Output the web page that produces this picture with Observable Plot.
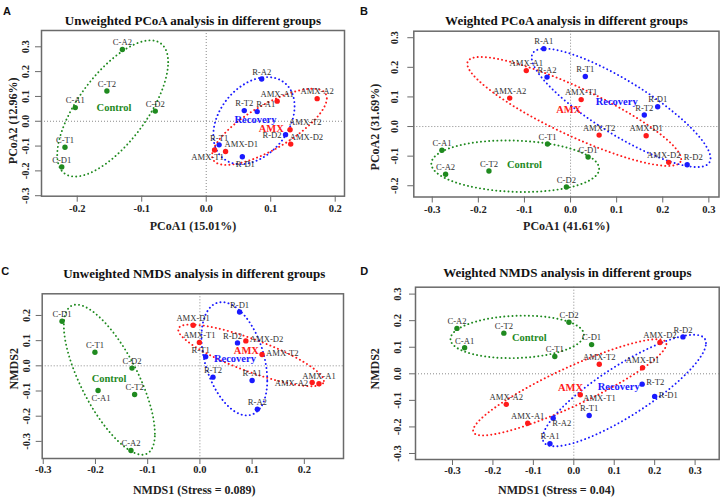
<!DOCTYPE html>
<html><head><meta charset="utf-8">
<script src="https://cdn.jsdelivr.net/npm/d3@7"></script>
<script src="https://cdn.jsdelivr.net/npm/@observablehq/plot@0.6"></script>
<style>
body{margin:0;background:#fff;}
#fig{position:relative;width:721px;height:501px;overflow:hidden;background:#fff;}
.panel{position:absolute;}
</style></head><body><div id="fig"></div>
<script>
// ---------- data ----------
const samples = ["C-A1","C-A2","C-D1","C-D2","C-T1","C-T2","AMX-A1","AMX-A2","AMX-D1","AMX-D2","AMX-T1","AMX-T2","R-A1","R-A2","R-D1","R-D2","R-T1","R-T2"];
const groupNames = ["Control","AMX","Recovery"];
const groupColors = ["#1f8a1f","#ff1a1a","#1a1aff"];

// Panel A: Unweighted PCoA
const aX = [-0.203,-0.130,-0.224,-0.079,-0.219,-0.154, 0.110,0.172,0.030,0.131,0.013,0.130, 0.079,0.086,0.056,0.123,0.020,0.059];
const aY = [0.055,0.289,-0.184,0.041,-0.105,0.122, 0.081,0.091,-0.122,-0.092,-0.116,-0.034, 0.039,0.170,-0.143,-0.054,-0.095,0.043];
const aPos = ["n","n","n","n","n","n","n","n","ne","ne","sl","ne","ne","n","s","w","n","n"];
const aGroupLX = [-0.143, 0.1008, 0.0764];
const aGroupLY = [0.054, -0.031, 0.007];
const aEllCx = [-0.145, 0.098, 0.074], aEllCy = [0.0515, -0.0225, 0.0025];
const aEllRx = [0.086, 0.089, 0.063], aEllRy = [0.2745, 0.1535, 0.1755], aEllRho = [0.68, 0.75, 0.33];
const aXTicks = [-0.2,-0.1,0,0.1,0.2], aYTicks = [-0.3,-0.2,-0.1,0,0.1,0.2,0.3];

// Panel B: Weighted PCoA
const bX = [-0.279,-0.271,0.038,-0.009,-0.050,-0.177, -0.096,-0.132,0.164,0.213,0.023,0.062, -0.058,-0.051,0.189,0.253,0.032,0.160];
const bY = [-0.080,-0.161,-0.103,-0.204,-0.059,-0.150, 0.189,0.096,-0.031,-0.121,0.091,-0.029, 0.263,0.167,0.067,-0.129,0.169,0.039];
const bPos = ["n","n","n","n","n","n","n","n","n","nl","n","n","n","n","n","nr","n","n"];
const bGroupLX = [-0.100, -0.004, 0.100];
const bGroupLY = [-0.127, 0.057, 0.085];
const bEllCx = [-0.120, 0.008, 0.1096], bEllCy = [-0.134, 0.051, 0.063];
const bEllRx = [0.182, 0.232, 0.194], bEllRy = [0.087, 0.184, 0.200], bEllRho = [-0.10, -0.875, -0.85];
const bXTicks = [-0.3,-0.2,-0.1,0,0.1,0.2,0.3], bYTicks = [-0.2,-0.1,0,0.1,0.2,0.3];

// Panel C: Unweighted NMDS
const cX = [-0.195,-0.132,-0.264,-0.130,-0.201,-0.125, 0.228,0.215,-0.013,0.088,-0.001,0.119, 0.100,0.110,0.076,0.072,0.011,0.025];
const cY = [-0.098,-0.336,0.177,-0.009,0.054,-0.114, -0.071,-0.066,0.161,0.099,0.093,0.045, -0.058,-0.172,0.214,0.091,0.036,-0.045];
const cPos = ["s","n","n","n","n","n","n","w","n","e","n","e","n","n","n","nl","nl","n"];
const cGroupLX = [-0.174, 0.089, 0.067];
const cGroupLY = [-0.052, 0.061, 0.028];
const cEllCx = [-0.1734, 0.098, 0.066], cEllCy = [-0.055, 0.0415, 0.028];
const cEllRx = [0.0872, 0.1395, 0.063], cEllRy = [0.298, 0.1225, 0.225], cEllRho = [-0.72, -0.83, -0.38];
const cXTicks = [-0.3,-0.2,-0.1,0,0.1,0.2], cYTicks = [-0.3,-0.2,-0.1,0,0.1,0.2];

// Panel D: Weighted NMDS
const dX = [-0.270,-0.289,0.044,-0.012,-0.047,-0.173, -0.114,-0.167,0.170,0.213,0.016,0.063, -0.059,-0.051,0.200,0.270,0.038,0.169];
const dY = [0.098,0.171,0.110,0.194,0.065,0.153, -0.186,-0.115,0.023,0.118,-0.079,0.036, -0.263,-0.167,-0.085,0.139,-0.157,-0.039];
const dPos = ["n","n","n","n","n","n","n","n","n","n","es","n","n","se","e","n","n","e"];
const dGroupLX = [-0.110, -0.008, 0.111];
const dGroupLY = [0.136, -0.053, -0.048];
const dEllCx = [-0.140, -0.010, 0.125], dEllCy = [0.139, -0.051, -0.063];
const dEllRx = [0.165, 0.239, 0.202], dEllRy = [0.080, 0.181, 0.210], dEllRho = [0.1, 0.90, 0.85];
const dXTicks = [-0.3,-0.2,-0.1,0,0.1,0.2,0.3], dYTicks = [-0.3,-0.2,-0.1,0,0.1,0.2,0.3];

// ---------- rendering ----------
const SERIF = "'Liberation Serif','Times New Roman',serif";
const SANS = "'Liberation Sans',Arial,sans-serif";
const AXIS = "#6a6a6a";
const groupOf = s => s.startsWith("C-") ? "Control" : s.startsWith("R-") ? "Recovery" : "AMX";
const labelOffsets = {
  n:  {dx: 0,  dy: -7,  anchor: "middle"},
  nl: {dx: -5, dy: -7,  anchor: "middle"},
  nr: {dx: 6,  dy: -7,  anchor: "middle"},
  s:  {dx: 3,  dy: 7.5, anchor: "middle"},
  sl: {dx: -7, dy: 7.5, anchor: "middle"},
  ne: {dx: -1, dy: -7,  anchor: "start"},
  e:  {dx: 4,  dy: -1.5,anchor: "start"},
  es: {dx: 3,  dy: 3,   anchor: "start"},
  w:  {dx: -4, dy: 1,   anchor: "end"},
  se: {dx: -1, dy: 5.5, anchor: "start"}
};
const fmt = d => d.toFixed(1);

function ellipse(cx, cy, rx, ry, rho, group) {
  const phi = Math.acos(rho), pts = [], n = 140;
  for (let i = 0; i <= n; i++) {
    const t = 2 * Math.PI * i / n;
    pts.push({x: cx + rx * Math.cos(t), y: cy + ry * Math.cos(t - phi), group});
  }
  return pts;
}

function panel(cfg) {
  const rows = samples.map((s, i) => ({name: s, x: cfg.x[i], y: cfg.y[i], pos: cfg.pos[i], group: groupOf(s)}));
  const gl = groupNames.map((g, i) => ({group: g, x: cfg.glx[i], y: cfg.gly[i]}));
  const ell = groupNames.flatMap((g, i) => ellipse(cfg.ecx[i], cfg.ecy[i], cfg.erx[i], cfg.ery[i], cfg.erho[i], g));
  const labelMarks = Object.entries(labelOffsets).map(([k, o]) =>
    Plot.text(rows.filter(r => r.pos === k), {x: "x", y: "y", text: "name", dx: o.dx, dy: o.dy, textAnchor: o.anchor,
      fill: "#303030", fontSize: 8.6, fontFamily: SERIF}));
  const L = cfg.lay;
  const chart = Plot.plot({
    width: cfg.width, height: cfg.height,
    marginLeft: cfg.m[0], marginRight: cfg.m[1], marginTop: cfg.m[2], marginBottom: cfg.m[3],
    x: {domain: cfg.xd}, y: {domain: cfg.yd},
    color: {domain: groupNames, range: groupColors},
    style: {background: "transparent", overflow: "visible"},
    marks: [
      Plot.ruleX([0], {stroke: "#8a8a8a", strokeDasharray: "1,2"}),
      Plot.ruleY([0], {stroke: "#8a8a8a", strokeDasharray: "1,2"}),
      Plot.line(ell, {x: "x", y: "y", z: "group", stroke: "group", strokeWidth: 1.9, strokeDasharray: "0.1,4", strokeLinecap: "round"}),
      Plot.dot(rows, {x: "x", y: "y", fill: "group", r: 2.7}),
      ...labelMarks,
      Plot.text(gl, {x: "x", y: "y", text: "group", fill: "group", fontWeight: "bold", fontSize: 10.5, fontFamily: SERIF}),
      Plot.frame({stroke: AXIS, strokeWidth: 1.5}),
      Plot.axisX(cfg.xt, {tickSize: 6, fill: "none", stroke: AXIS, label: null}),
      Plot.axisY(cfg.yt, {anchor: "left", tickSize: 6, fill: "none", stroke: AXIS, label: null}),
      Plot.text(cfg.xt, {x: d => d, text: fmt, frameAnchor: "bottom", dy: L.xtick, fontWeight: "bold", fontSize: 10.5, fontFamily: SERIF, fill: "#222"}),
      Plot.text(cfg.yt, {y: d => d, text: fmt, frameAnchor: "left", dx: L.ytick, rotate: -90, textAnchor: "middle", fontWeight: "bold", fontSize: 10.5, fontFamily: SERIF, fill: "#222"}),
      Plot.text([cfg.xlab], {text: d => d, frameAnchor: "bottom", dx: L.xlab[0], dy: L.xlab[1], fontWeight: "bold", fontSize: 12, fontFamily: SERIF, fill: "#222"}),
      Plot.text([cfg.ylab], {text: d => d, frameAnchor: "left", dx: L.ylab[0], dy: L.ylab[1], rotate: -90, textAnchor: "middle", fontWeight: "bold", fontSize: 12, fontFamily: SERIF, fill: "#222"}),
      Plot.text([cfg.title], {text: d => d, frameAnchor: "top", dx: L.title[0], dy: L.title[1], fontWeight: "bold", fontSize: 13, fontFamily: SERIF, fill: "#111"}),
      Plot.text([cfg.letter], {text: d => d, frameAnchor: "top-left", dx: L.letter[0], dy: L.letter[1], textAnchor: "middle", fontWeight: "bold", fontSize: 11, fontFamily: SANS, fill: "#111"})
    ]
  });
  const div = document.createElement("div");
  div.className = "panel";
  div.style.left = cfg.left + "px";
  div.style.top = cfg.top + "px";
  div.appendChild(chart);
  document.getElementById("fig").appendChild(div);
}

panel({letter: "A", title: "Unweighted PCoA analysis in different groups", xlab: "PCoA1 (15.01%)", ylab: "PCoA2 (12.96%)",
  left: 0, top: 0, width: 360, height: 250, m: [41, 16, 30, 54.3],
  xd: [-0.2554, 0.2144], yd: [-0.302, 0.3657], xt: aXTicks, yt: aYTicks,
  x: aX, y: aY, pos: aPos, glx: aGroupLX, gly: aGroupLY,
  ecx: aEllCx, ecy: aEllCy, erx: aEllRx, ery: aEllRy, erho: aEllRho,
  lay: {xtick: 15.3, ytick: -16, xlab: [0, 33.3], ylab: [-28.3, 7.5], title: [0, -14.8], letter: [-34.5, -23]}});

panel({letter: "B", title: "Weighted PCoA analysis in different groups", xlab: "PCoA1 (41.61%)", ylab: "PCoA2 (31.69%)",
  left: 360, top: 0, width: 361, height: 250, m: [53.3, 2.5, 30.7, 53.5],
  xd: [-0.340, 0.322], yd: [-0.238, 0.322], xt: bXTicks, yt: bYTicks,
  x: bX, y: bY, pos: bPos, glx: bGroupLX, gly: bGroupLY,
  ecx: bEllCx, ecy: bEllCy, erx: bEllRx, ery: bEllRy, erho: bEllRho,
  lay: {xtick: 15.5, ytick: -19, xlab: [0, 32.5], ylab: [-38.3, 13], title: [0, -15.5], letter: [-49.8, -23.7]}});

panel({letter: "C", title: "Unweighted NMDS analysis in different groups", xlab: "NMDS1 (Stress = 0.089)", ylab: "NMDS2",
  left: 0, top: 250, width: 360, height: 251, m: [41.7, 17, 43.3, 43],
  xd: [-0.302, 0.275], yd: [-0.368, 0.286], xt: cXTicks, yt: cYTicks,
  x: cX, y: cY, pos: cPos, glx: cGroupLX, gly: cGroupLY,
  ecx: cEllCx, ecy: cEllCy, erx: cEllRx, ery: cEllRy, erho: cEllRho,
  lay: {xtick: 14, ytick: -15.7, xlab: [1.4, 35], ylab: [-28.4, -7.4], title: [1.4, -24.6], letter: [-37, -26.6]}});

panel({letter: "D", title: "Weighted NMDS analysis in different groups", xlab: "NMDS1 (Stress = 0.04)", ylab: "NMDS2",
  left: 360, top: 250, width: 361, height: 251, m: [55, 2.3, 36.7, 42],
  xd: [-0.3915, 0.3596], yd: [-0.3226, 0.326], xt: dXTicks, yt: dYTicks,
  x: dX, y: dY, pos: dPos, glx: dGroupLX, gly: dGroupLY,
  ecx: dEllCx, ecy: dEllCy, erx: dEllRx, ery: dEllRy, erho: dEllRho,
  lay: {xtick: 14, ytick: -18.3, xlab: [-11, 34], ylab: [-40, -4.5], title: [0, -19.7], letter: [-51.3, -20]}});
</script>
</body></html>
